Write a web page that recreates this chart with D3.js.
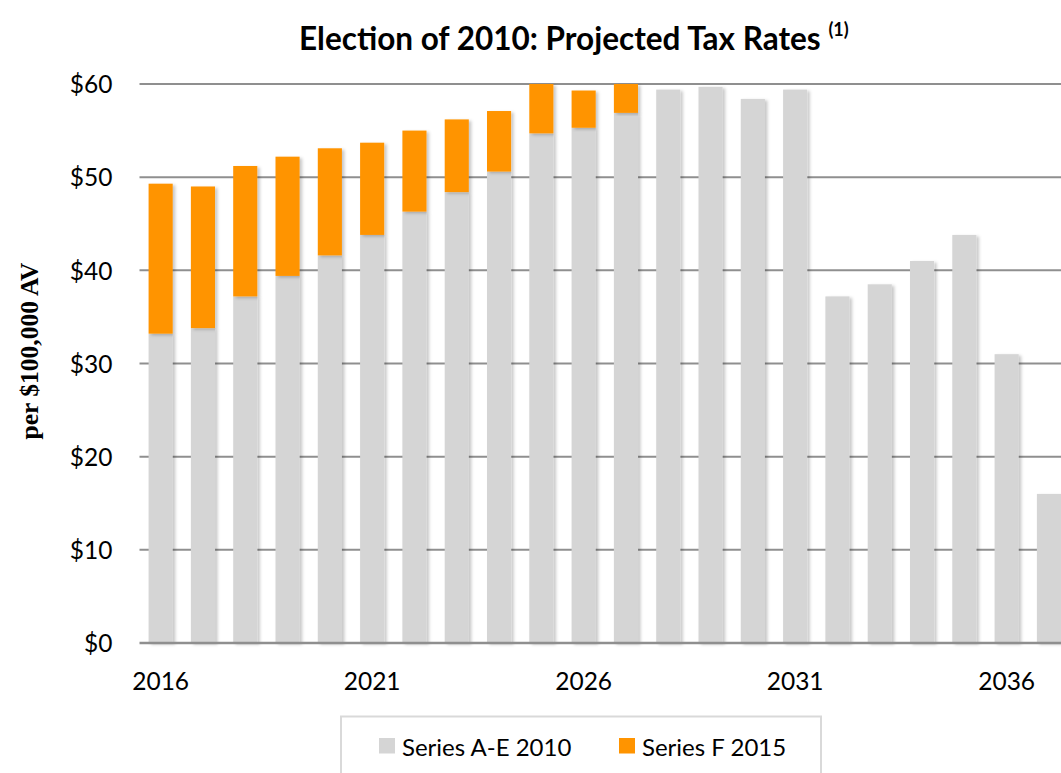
<!DOCTYPE html>
<html>
<head>
<meta charset="utf-8">
<script src="https://cdn.jsdelivr.net/npm/d3@7"></script>
<style>
  html, body { margin: 0; padding: 0; background: #ffffff; overflow: hidden; }
  svg { display: block; }
  .tick text { font-family: Lato, "Open Sans", sans-serif; fill: #000; }
</style>
</head>
<body>
<script>
// Projected tax rates per $100,000 assessed value, by year
const years = [2016, 2017, 2018, 2019, 2020, 2021, 2022, 2023, 2024, 2025, 2026,
               2027, 2028, 2029, 2030, 2031, 2032, 2033, 2034, 2035, 2036, 2037];
const seriesAE2010 = [33.2, 33.8, 37.2, 39.4, 41.6, 43.8, 46.3, 48.4, 50.6, 54.7, 55.3,
                      56.9, 59.4, 59.7, 58.4, 59.4, 37.2, 38.5, 41.0, 43.8, 31.0, 16.0];
const seriesF2015 = [16.1, 15.2, 14.0, 12.8, 11.5, 9.9, 8.7, 7.8, 6.5, 5.3, 4.0,
                     3.1, 0, 0, 0, 0, 0, 0, 0, 0, 0, 0];
const seriesNames = ["Series A-E 2010", "Series F 2015"];
const seriesColors = ["#d5d5d5", "#ff9400"];
const yTicks = [0, 10, 20, 30, 40, 50, 60];
const xLabelYears = [2016, 2021, 2026, 2031, 2036];

const W = 1061, H = 773;
const plotLeft = 139.5, plotTop = 84, plotBottom = 643;
const step = 42.3;

const svg = d3.select("body").append("svg")
  .attr("width", W).attr("height", H);

// soft shadow cast to the lower right of each bar
const defs = svg.append("defs");
const f = defs.append("filter").attr("id", "barShadow")
  .attr("x", "-30%").attr("y", "-10%").attr("width", "160%").attr("height", "120%");
f.append("feDropShadow").attr("dx", 2.5).attr("dy", 1.5)
  .attr("stdDeviation", 1.8).attr("flood-color", "#000").attr("flood-opacity", 0.22);

const x = d3.scaleBand()
  .domain(years)
  .range([plotLeft, plotLeft + years.length * step])
  .paddingInner(0.43)
  .paddingOuter(0.215);

const y = d3.scaleLinear().domain([0, 60]).range([plotBottom, plotTop]);

// horizontal gridlines
svg.append("g").selectAll("line")
  .data(yTicks.filter(t => t > 0))
  .join("line")
  .attr("x1", plotLeft).attr("x2", W)
  .attr("y1", d => y(d)).attr("y2", d => y(d))
  .attr("stroke", "#8f8f8f").attr("stroke-width", 2);

// stacked data
const rows = years.map((yr, i) => ({ year: yr, a: seriesAE2010[i], f: seriesF2015[i] }));
const stack = d3.stack().keys(["a", "f"])(rows);

const barsG = svg.append("g");
stack.forEach((layer, li) => {
  barsG.append("g")
    .selectAll("rect")
    .data(layer.filter(d => d[1] - d[0] > 0))
    .join("rect")
    .attr("x", d => x(d.data.year))
    .attr("width", x.bandwidth())
    .attr("y", d => y(d[1]))
    .attr("height", d => y(d[0]) - y(d[1]))
    .attr("fill", seriesColors[li])
    .attr("filter", "url(#barShadow)");
});

// baseline axis line
svg.append("line")
  .attr("x1", plotLeft).attr("x2", W)
  .attr("y1", y(0)).attr("y2", y(0))
  .attr("stroke", "#8f8f8f").attr("stroke-width", 2.5);

// y axis labels
const yAxis = d3.axisLeft(y).tickValues(yTicks).tickSize(0).tickPadding(27)
  .tickFormat(d => "$" + d);
const yg = svg.append("g").attr("transform", `translate(${plotLeft},0)`).call(yAxis);
yg.select(".domain").remove();
yg.selectAll(".tick text").attr("font-size", 24.5).attr("dy", "0.36em");

// x axis labels, every five years
const xAxis = d3.axisBottom(x).tickValues(xLabelYears).tickSize(0).tickPadding(30);
const xg = svg.append("g").attr("transform", `translate(0,${plotBottom})`).call(xAxis);
xg.select(".domain").remove();
xg.selectAll(".tick text").attr("font-size", 24.5);

// y axis title
svg.append("text")
  .attr("transform", "translate(38,351) rotate(-90)")
  .attr("text-anchor", "middle")
  .attr("font-family", "'Liberation Serif', 'Times New Roman', serif")
  .attr("font-weight", "bold")
  .attr("font-size", 25.5)
  .attr("fill", "#000")
  .text("per $100,000 AV");

// chart title
const title = svg.append("text")
  .attr("x", 299).attr("y", 50)
  .attr("font-family", "Lato, 'Open Sans', sans-serif")
  .attr("font-weight", "bold")
  .attr("font-size", 31.5)
  .attr("fill", "#000");
title.append("tspan").text("Election of 2010: Projected Tax Rates ");
title.append("tspan").attr("font-size", 18).attr("dy", -14).text("(1)");

// legend
const lg = svg.append("g");
lg.append("rect")
  .attr("x", 341).attr("y", 716.5).attr("width", 480).attr("height", 80)
  .attr("fill", "#fff").attr("stroke", "#d9d9d9").attr("stroke-width", 2);
const legendX = [379, 619];
seriesNames.forEach((name, i) => {
  lg.append("rect")
    .attr("x", legendX[i]).attr("y", 738).attr("width", 16).attr("height", 15.5)
    .attr("fill", seriesColors[i]);
  lg.append("text")
    .attr("x", legendX[i] + 23).attr("y", 756)
    .attr("font-family", "Lato, 'Open Sans', sans-serif")
    .attr("font-size", 24)
    .attr("fill", "#000")
    .text(name);
});
</script>
</body>
</html>
